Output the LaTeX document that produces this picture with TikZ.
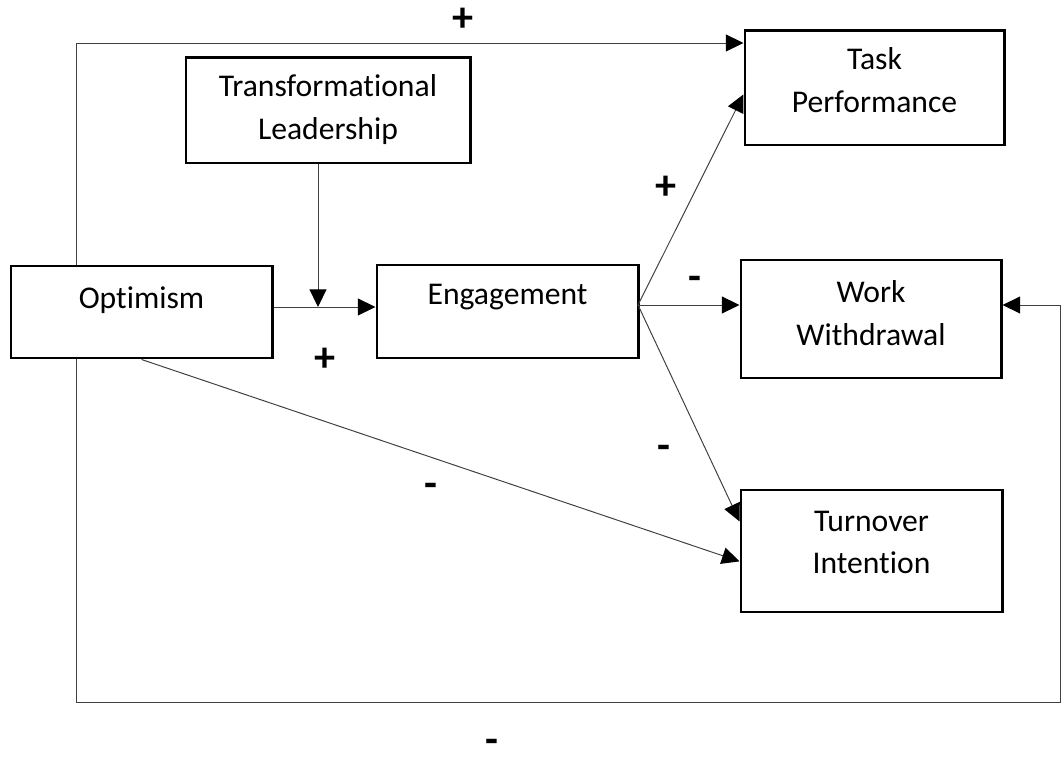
\documentclass[tikz,border=0pt]{standalone}
\usepackage{fontspec}
\setmainfont{Carlito}[Ligatures={NoCommon}]
\usetikzlibrary{arrows.meta,calc}
\tikzset{
  box/.style={draw, line width=2.1pt, inner sep=0pt, anchor=north west},
  boxtext/.style={anchor=north, inner sep=0pt, align=center, font=\fontsize{22.5}{30.5}\selectfont},
  link/.style={->, draw=black!75, line width=0.7pt},
  sign/.style={font=\fontsize{30}{30}\selectfont\bfseries, inner sep=0pt}
}
\begin{document}
\begin{tikzpicture}[x=0.025cm, y=-0.025cm, >={Triangle[length=12.5pt,width=12pt,color=black]}]
\useasboundingbox (0,0) rectangle (1061,762);
% boxes
\node[box, minimum width=7.1cm, minimum height=2.625cm] (lead) at (184.5,56.5) {};
\node[box, minimum width=6.525cm, minimum height=2.3cm] (opt) at (9.5,264.5) {};
\node[box, minimum width=6.525cm, minimum height=2.325cm] (eng) at (375.5,263.5) {};
\node[box, minimum width=6.475cm, minimum height=2.85cm] (task) at (743.5,29.5) {};
\node[box, minimum width=6.5cm, minimum height=2.95cm] (work) at (739.5,258.5) {};
\node[box, minimum width=6.525cm, minimum height=3.05cm] (turn) at (739.5,488.5) {};
% box texts
\node[boxtext] (lead-t) at ([yshift=-0.45cm]lead.north) {Transformational\\Leadership};
\node[boxtext] (opt-t) at ([yshift=-0.55cm]opt.north) {Optimism};
\node[boxtext] (eng-t) at ([yshift=-0.5cm]eng.north) {Engagement};
\node[boxtext] (task-t) at ([yshift=-0.45cm]task.north) {Task\\Performance};
\node[boxtext] (work-t) at ([yshift=-0.55cm]work.north) {Work\\Withdrawal};
\node[boxtext] (turn-t) at ([yshift=-0.55cm]turn.north) {Turnover\\Intention};
% helper points
\coordinate (join) at (318,307);
\coordinate (fork) at (638,305);
\coordinate (loopl) at (76,43);
\coordinate (loopr) at (1060,702);
% links
\draw[link] (lead.south -| join) -- (join);
\draw[link] (opt.east |- join) -- (eng.west |- join);
\draw[link] (loopl |- opt.north) -- (loopl) -- (task.west |- loopl);
\draw[link] (fork) -- ([yshift=-0.16cm]task.west);
\draw[link] (fork) -- (work.west |- fork);
\draw[link] (fork) -- ([yshift=0.74cm]turn.west);
\draw[link] (opt.south) -- ([yshift=-0.26cm]turn.west);
\draw[link] (loopl |- opt.south) |- (loopr) |- (work.east |- fork);
% signs
\node[sign] (s-top) at (463,20) {+};
\node[sign] (s-eng) at (325,360) {+};
\node[sign] (s-task) at (666,188) {+};
\node[sign] (s-work) at (695,283) {-};
\node[sign] (s-turn) at (664,452) {-};
\node[sign] (s-opt) at (431,490) {-};
\node[sign] (s-bot) at (492,746) {-};
\end{tikzpicture}
\end{document}
